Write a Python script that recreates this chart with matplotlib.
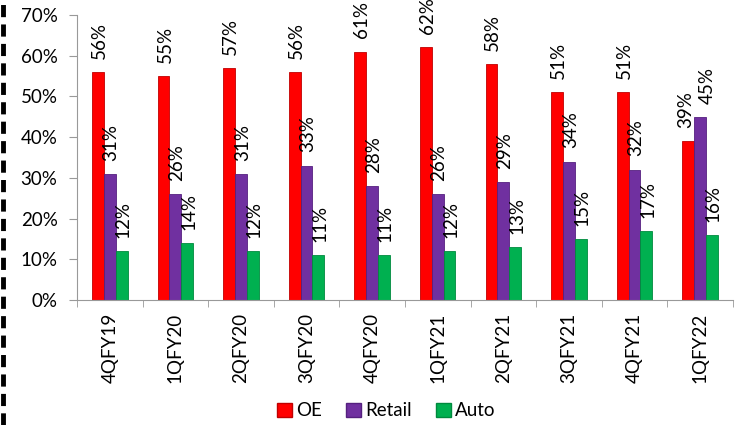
import matplotlib
matplotlib.use("Agg")
import matplotlib.pyplot as plt
from matplotlib.lines import Line2D
import numpy as np

categories = ["4QFY19", "1QFY20", "2QFY20", "3QFY20", "4QFY20",
              "1QFY21", "2QFY21", "3QFY21", "4QFY21", "1QFY22"]
oe = [56, 55, 57, 56, 61, 62, 58, 51, 51, 39]
retail = [31, 26, 31, 33, 28, 26, 29, 34, 32, 45]
auto = [12, 14, 12, 11, 11, 12, 13, 15, 17, 16]
series_names = ["OE", "Retail", "Auto"]
colors = ["#FF0000", "#7030A0", "#00B050"]
edge_colors = ["#C00000", "#55207F", "#008A3E"]

plt.rcParams['font.family'] = ['Lato', 'DejaVu Sans']
fs = 13.5

fig = plt.figure(figsize=(7.44, 4.25), dpi=100)
ax = fig.add_axes([0.1035, 0.294, 0.8815, 0.671])

x = np.arange(len(categories))
w = 0.18
for i, (vals, c, ec, name) in enumerate(zip([oe, retail, auto], colors, edge_colors, series_names)):
    pos = x + (i - 1) * w
    ax.bar(pos, vals, width=w, color=c, edgecolor=ec, linewidth=0.6, label=name)
    for j, (p, v) in enumerate(zip(pos, vals)):
        dx = 1
        if j == len(categories) - 1 and i == 0:
            dx = -2
        elif j == len(categories) - 1 and i == 1:
            dx = 5
        ax.annotate(f"{v}%", (p, v), xytext=(dx, 9.5), textcoords="offset points",
                    rotation=90, ha="center", va="bottom", fontsize=fs,
                    annotation_clip=False, clip_on=False)

ax.set_xlim(-0.5, len(categories) - 0.5)
ax.set_ylim(0, 70)
ax.set_yticks(range(0, 71, 10))
ax.set_yticklabels([f"{t}%" for t in range(0, 71, 10)], fontsize=fs)
ax.set_xticks(x)
ax.set_xticklabels(categories, rotation=90, fontsize=fs)
ax.tick_params(axis='x', length=0, pad=9)
ax.set_xticks(np.arange(-0.5, len(categories) + 0.5, 1), minor=True)
ax.tick_params(axis='x', which='minor', length=5, color='#999999')
ax.tick_params(axis='y', length=6, color='#999999', pad=8)
for s in ['top', 'right']:
    ax.spines[s].set_visible(False)
for s in ['left', 'bottom']:
    ax.spines[s].set_color('#999999')

handles = [plt.Rectangle((0, 0), 1, 1, facecolor=c, edgecolor=ec) for c, ec in zip(colors, edge_colors)]
fig.legend(handles, series_names, loc='center', bbox_to_anchor=(0.519, 0.033), ncol=3,
           frameon=False, fontsize=fs, handlelength=0.8, handleheight=0.8,
           handletextpad=0.2, columnspacing=1.3)

fig.add_artist(Line2D([0.004, 0.004], [0.0, 1.0], color='black', linewidth=3.5,
                      linestyle=(0, (2.5, 1.5)), transform=fig.transFigure))

fig.savefig("out.png", dpi=100)
